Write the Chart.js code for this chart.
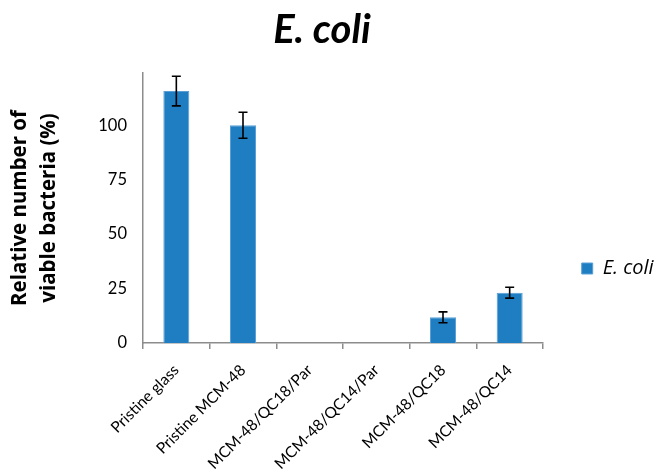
<!DOCTYPE html>
<html lang="en">
  <head>
    <meta charset="UTF-8" />
    <title>E. coli</title>
    <style>
      body { margin: 0; background: #fff; }
    </style>
  </head>
  <body>
    <canvas id="myChart" width="654" height="471"></canvas>

    <script src="https://cdn.jsdelivr.net/npm/chart.js"></script>
    <script>
      const categories = [
        "Pristine glass",
        "Pristine MCM-48",
        "MCM-48/QC18/Par",
        "MCM-48/QC14/Par",
        "MCM-48/QC18",
        "MCM-48/QC14",
      ];
      const values = [115.7, 100, 0, 0, 11.8, 23.1];
      const errors = [6.8, 6, 0, 0, 2.5, 2.5];
      const yTicks = [0, 25, 50, 75, 100];

      const font = "Lato, 'Open Sans', sans-serif";
      const font2 = "'Open Sans', sans-serif";
      const axisGray = "#8c8c8c";

      // draws the +/- error bars on top of each bar
      const errorBars = {
        id: "errorBars",
        afterDatasetsDraw(chart) {
          const ctx = chart.ctx;
          const x = chart.scales.x;
          const y = chart.scales.y;
          ctx.save();
          ctx.strokeStyle = "#000";
          ctx.lineWidth = 1.6;
          values.forEach((v, i) => {
            const e = errors[i];
            if (!e) return;
            const px = x.getPixelForValue(i);
            const top = y.getPixelForValue(v + e);
            const bot = y.getPixelForValue(v - e);
            ctx.beginPath();
            ctx.moveTo(px, top);
            ctx.lineTo(px, bot);
            ctx.moveTo(px - 4.5, top);
            ctx.lineTo(px + 4.5, top);
            ctx.moveTo(px - 4.5, bot);
            ctx.lineTo(px + 4.5, bot);
            ctx.stroke();
          });
          ctx.restore();
        },
      };

      // legend sits a bit below the middle in the original, title a bit left
      const nudge = {
        id: "nudge",
        afterLayout(chart) {
          chart.legend.top += 33;
          chart.legend.bottom += 33;
          chart.titleBlock.left -= 10;
        },
      };

      new Chart(document.getElementById("myChart"), {
        type: "bar",
        data: {
          labels: categories,
          datasets: [
            {
              label: "E. coli",
              data: values,
              backgroundColor: "#1f7dc2",
              borderColor: "#5a9fd6",
              borderWidth: 1,
              barPercentage: 0.39,
              categoryPercentage: 1,
            },
          ],
        },
        options: {
          responsive: false,
          animation: false,
          layout: { padding: 0 },
          plugins: {
            title: {
              display: true,
              text: "E. coli",
              color: "#000",
              font: { family: font, size: 40, style: "italic", weight: "bold" },
              padding: { top: 6, bottom: 19 },
            },
            legend: {
              position: "right",
              maxWidth: 111,
              labels: {
                boxWidth: 11,
                boxHeight: 11,
                padding: 38.7,
                color: "#000",
                font: { family: font2, size: 20, style: "italic" },
              },
            },
            tooltip: { enabled: false },
          },
          scales: {
            x: {
              afterFit(scale) {
                scale.height = 128;
              },
              grid: {
                display: true,
                drawOnChartArea: false,
                drawTicks: true,
                tickLength: 6,
                color: axisGray,
                lineWidth: 1.5,
              },
              border: { display: true, color: axisGray, width: 1.5 },
              ticks: {
                minRotation: 45,
                maxRotation: 45,
                padding: 12,
                color: "#000",
                font: { family: font, size: 15.5 },
              },
            },
            y: {
              min: 0,
              max: 124,
              afterFit(scale) {
                scale.width = 143;
              },
              afterBuildTicks(scale) {
                scale.ticks = yTicks.map((v) => ({ value: v }));
              },
              grid: { display: false, drawTicks: false, tickLength: 0 },
              border: { display: true, color: axisGray, width: 1.5 },
              ticks: {
                padding: 16,
                color: "#000",
                font: { family: font, size: 16.5 },
              },
              title: {
                display: true,
                text: ["Relative number of", "viable bacteria (%)"],
                color: "#000",
                font: { family: font2, size: 20.5, weight: "bold", lineHeight: 1.4 },
                padding: { top: 6, bottom: 0 },
              },
            },
          },
        },
        plugins: [errorBars, nudge],
      });
    </script>
  </body>
</html>
